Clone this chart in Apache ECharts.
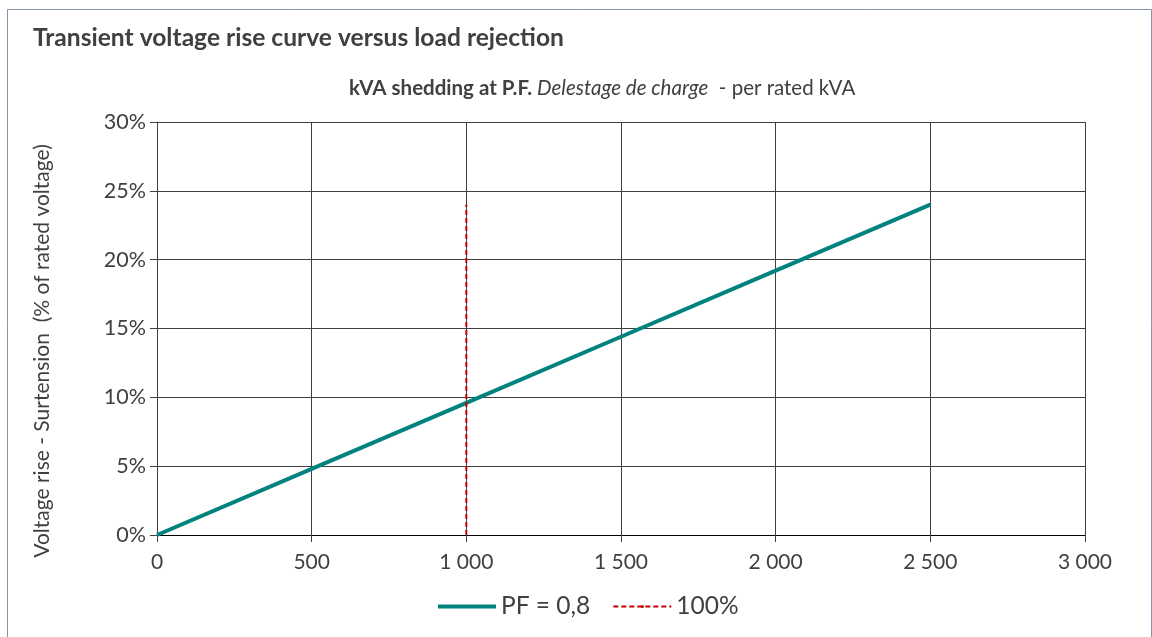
<!DOCTYPE html>
<html><head><meta charset="utf-8">
<script src="https://cdn.jsdelivr.net/npm/echarts@6/dist/echarts.min.js"></script>
<style>html,body{margin:0;padding:0;background:#fff}#c{width:1152px;height:637px}</style>
</head><body><div id="c"></div>
<script>
const loadKVA = [0, 500, 1000, 1500, 2000, 2500];
const voltageRisePF08 = [0, 4.8, 9.6, 14.4, 19.2, 24];
const ref100X = [1000, 1000];
const ref100Y = [0, 24];
const xTicks = [0, 500, 1000, 1500, 2000, 2500, 3000];
const yTicks = [0, 5, 10, 15, 20, 25, 30];

const FONT = 'Lato';
const chart = echarts.init(document.getElementById('c'));
chart.setOption({
  animation: false,
  textStyle: {fontFamily: FONT},
  title: [{
    text: 'Transient voltage rise curve versus load rejection',
    left: 28, top: 21,
    textStyle: {fontFamily: FONT, fontSize: 24.6, fontWeight: 'bold', color: '#404040'}
  }, {
    text: '{b|kVA shedding at P.F. }{i|Delestage de charge}{n|  - per rated kVA}',
    left: 344, top: 73,
    textStyle: {fontWeight: 'normal', rich: {
      b: {fontFamily: FONT, fontSize: 20.5, fontWeight: 'bold', color: '#404040'},
      i: {fontFamily: FONT, fontSize: 20.5, fontStyle: 'italic', fontWeight: 'normal', color: '#404040'},
      n: {fontFamily: FONT, fontSize: 20.5, fontWeight: 'normal', color: '#404040'}
    }}
  }],
  graphic: [{
    type: 'rect', left: 5, top: 7, z: -1,
    shape: {width: 1144, height: 628},
    style: {fill: 'none', stroke: '#8591ad', lineWidth: 1}
  }, {
    type: 'text', x: 42, y: 351, rotation: Math.PI / 2,
    style: {text: 'Voltage rise - Surtension  (% of rated voltage)', fill: '#404040',
      font: '21px ' + FONT, textAlign: 'center', textVerticalAlign: 'middle'}
  }],
  legend: {
    bottom: 13, left: 433, itemWidth: 58, itemHeight: 4, itemGap: 22,
    textStyle: {fontSize: 24.5, color: '#404040', fontFamily: FONT},
    data: [{name: 'PF = 0,8', icon: 'rect'}, {name: '100%'}]
  },
  grid: {left: 157, right: 67, top: 122, bottom: 102, containLabel: false},
  xAxis: {
    type: 'value', min: 0, max: 3000, interval: 500,
    axisLine: {show: true, onZero: false, lineStyle: {color: '#000', width: 1}},
    axisTick: {show: true, length: 7, lineStyle: {color: '#404040'}},
    splitLine: {show: true, lineStyle: {color: '#404040', width: 1}},
    axisLabel: {fontSize: 21, color: '#404040', margin: 17,
      formatter: v => xTicks.includes(v) ? String(v).replace(/\B(?=(\d{3})+(?!\d))/g, ' ') : ''}
  },
  yAxis: {
    type: 'value', min: 0, max: 30, interval: 5,
    axisLine: {show: true, lineStyle: {color: '#404040', width: 1}},
    axisTick: {show: true, length: 7, lineStyle: {color: '#404040'}},
    splitLine: {show: true, lineStyle: {color: '#404040', width: 1}},
    axisLabel: {fontSize: 21.5, color: '#404040', margin: 11,
      formatter: v => yTicks.includes(v) ? v + '%' : ''}
  },
  series: [{
    name: 'PF = 0,8', type: 'line', showSymbol: false, symbol: 'none',
    data: loadKVA.map((x, i) => [x, voltageRisePF08[i]]),
    lineStyle: {color: '#00837e', width: 4}, itemStyle: {color: '#00837e'}
  }, {
    name: '100%', type: 'line', showSymbol: false, symbol: 'none',
    data: ref100X.map((x, i) => [x, ref100Y[i]]),
    lineStyle: {color: '#c00000', width: 2, type: [5, 3]}, itemStyle: {color: '#c00000'}
  }]
});
</script></body></html>
